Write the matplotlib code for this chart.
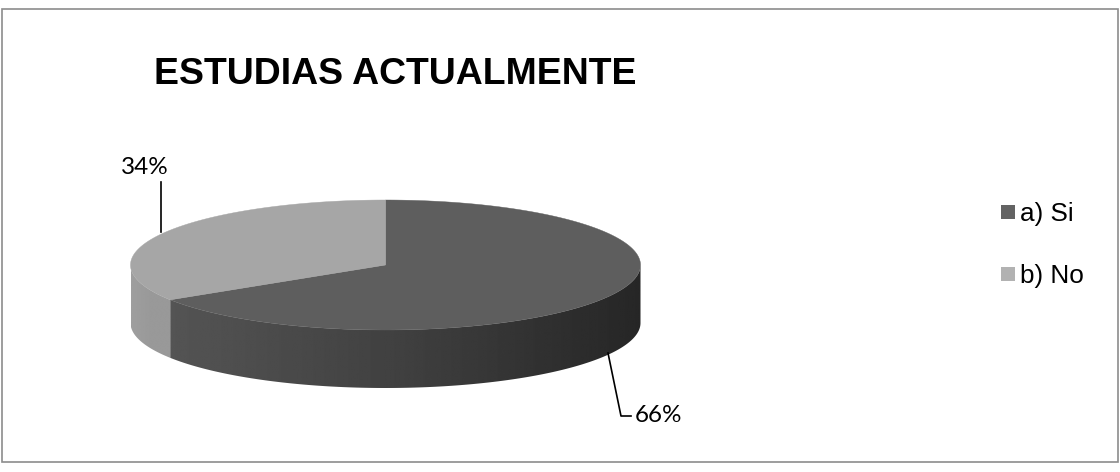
#!/usr/bin/env python3
"""Tilted pie chart: ESTUDIAS ACTUALMENTE."""
import matplotlib
matplotlib.use("Agg")
import matplotlib.pyplot as plt
import numpy as np
from matplotlib.patches import Polygon, Rectangle

labels = ["a) Si", "b) No"]
values = [66, 34]
pct_labels = ["66%", "34%"]
top_colors = ["#5e5e5e", "#a6a6a6"]
swatch_colors = ["#636363", "#b2b2b2"]

W, H = 1120, 472
CX, CY, RX, RY, DEPTH = 385.5, 265, 255, 65, 58


def rim(a0, a1, n=200):
    # angles clockwise from 12 o'clock, in degrees
    t = np.radians(np.linspace(a0, a1, n))
    return np.column_stack([CX + RX * np.sin(t), CY - RY * np.cos(t)])


def side(a0, a1, dark, mid, edge):
    # front wall of a slice, shaded left to right with a gradient image
    top = rim(a0, a1)
    bot = top + [0, DEPTH]
    poly = Polygon(np.vstack([top, bot[::-1]]), closed=True, fc="none", ec="none")
    ax.add_patch(poly)
    xs = np.array([0, 0.5, 1.0])
    grad = np.interp(np.linspace(0, 1, 256), xs, [edge, mid, dark])[None, :]
    x0, x1 = top[:, 0].min(), top[:, 0].max()
    y0, y1 = top[:, 1].min(), bot[:, 1].max()
    im = ax.imshow(grad, cmap="gray", vmin=0, vmax=1, aspect="auto",
                   extent=(x0, x1, y1, y0), zorder=1, interpolation="bilinear")
    im.set_clip_path(poly)


fig = plt.figure(figsize=(W / 100, H / 100), dpi=100)
ax = fig.add_axes([0, 0, 1, 1])
ax.set_xlim(0, W)
ax.set_ylim(H, 0)
ax.axis("off")

ax.add_patch(Rectangle((1.5, 8.5), 1116, 453, fc="white", ec="#8c8c8c", lw=1.2, zorder=0))

ends = np.cumsum(values) / sum(values) * 360
starts = np.r_[0, ends[:-1]]

# walls: only the part of each slice facing the viewer (90..270 deg)
side(90, ends[0], 0.15, 0.25, 0.33)
side(ends[0], 270, 0.60, 0.60, 0.62)

for a0, a1, col in zip(starts, ends, top_colors):
    pts = np.vstack([[CX, CY], rim(a0, a1)])
    ax.add_patch(Polygon(pts, closed=True, fc=col, ec=col, lw=0.3, zorder=2))

# leader lines and percentage labels
ax.plot([161, 161], [182, 232], color="black", lw=1.2, zorder=3)
ax.text(145, 167, pct_labels[1], fontsize=17.5, family="Lato", ha="center", va="center")
ax.plot([608, 621, 631], [353, 416, 416], color="black", lw=1.2, zorder=3)
ax.text(659, 415, pct_labels[0], fontsize=17.5, family="Lato", ha="center", va="center")

ax.text(154, 75, "ESTUDIAS ACTUALMENTE", fontsize=26.9, fontweight="bold",
        family="Liberation Sans", ha="left", va="center")

for i, (lab, col) in enumerate(zip(labels, swatch_colors)):
    y = 212 + i * 62
    ax.add_patch(Rectangle((1001, y - 7), 14, 14, fc=col, ec="none"))
    ax.text(1020.5, y + 2, lab, fontsize=18.8, family="Liberation Sans", ha="left", va="center")

fig.savefig("out.png", dpi=100)
